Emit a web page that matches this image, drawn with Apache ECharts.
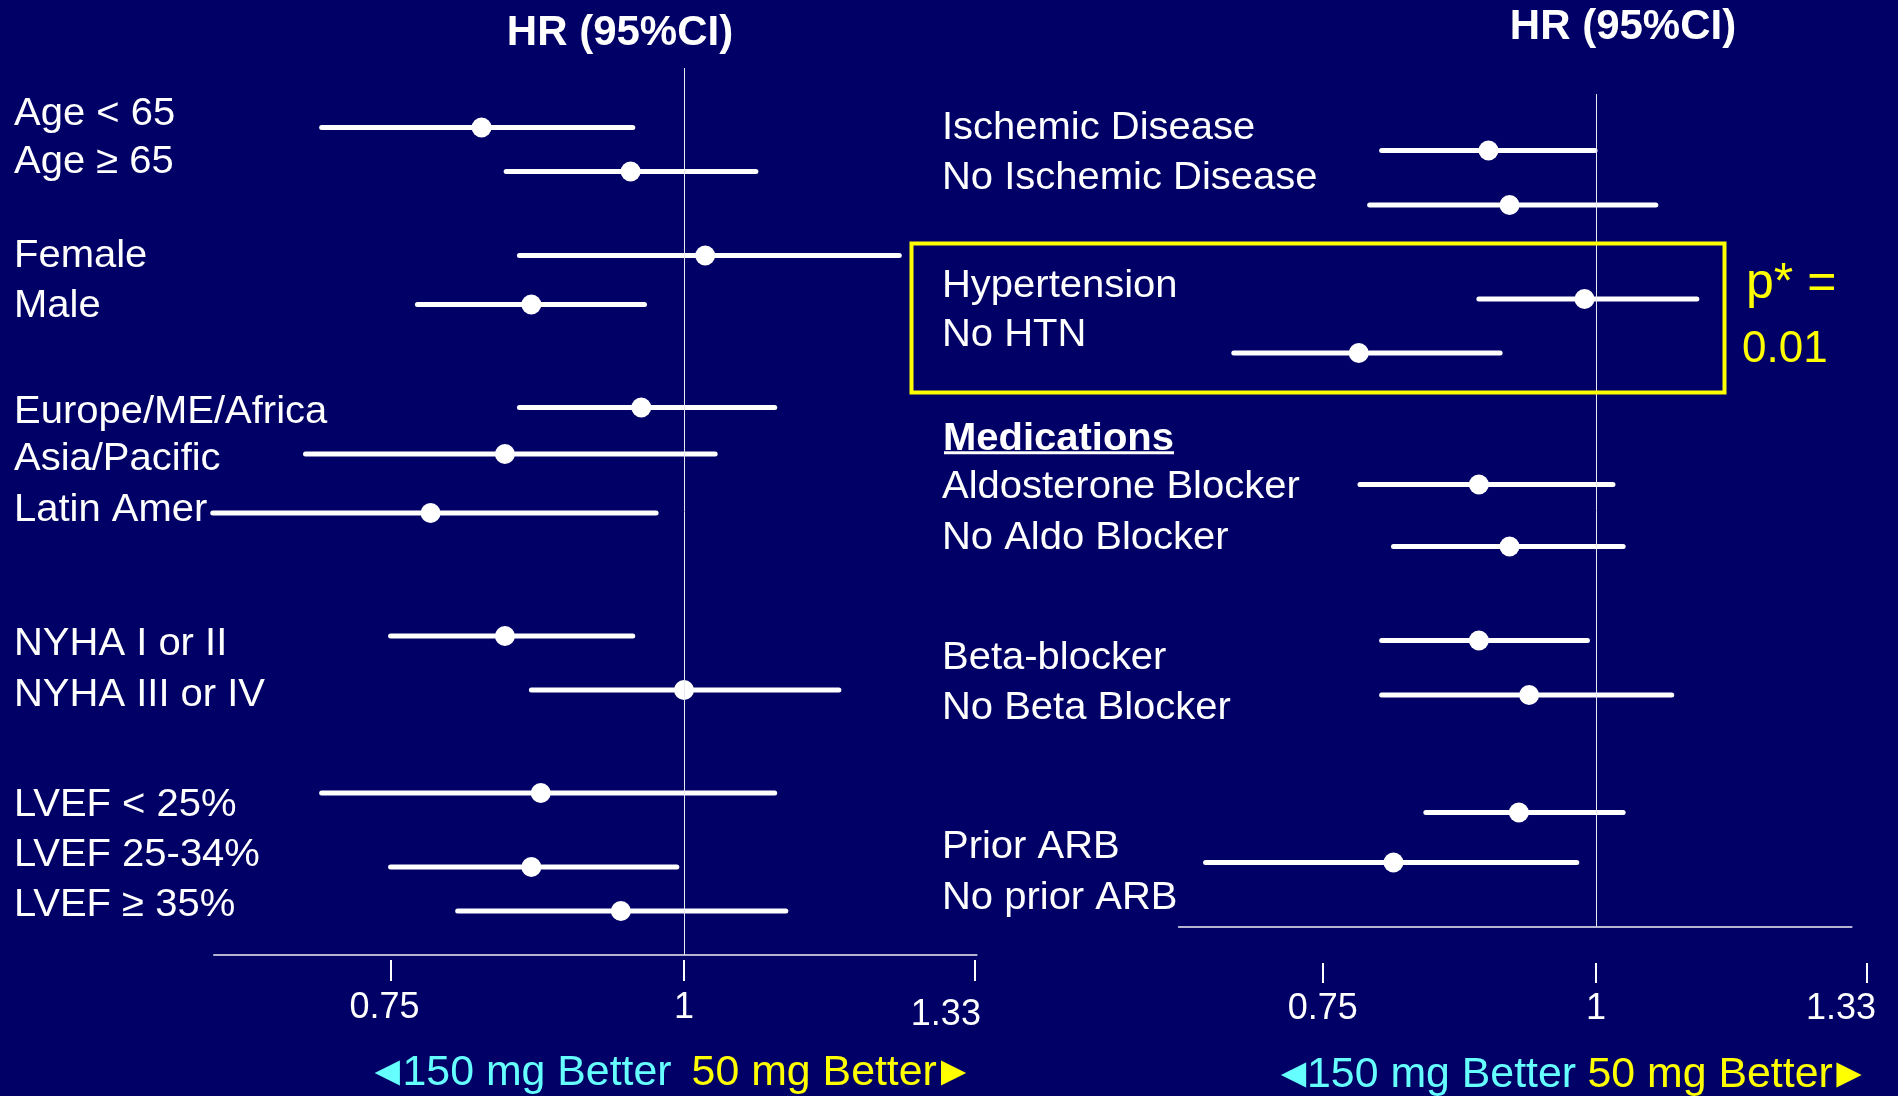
<!DOCTYPE html>
<html>
<head>
<meta charset="utf-8">
<script src="https://cdn.jsdelivr.net/npm/echarts@6/dist/echarts.min.js"></script>
<style>
  html, body { margin: 0; padding: 0; background: #000066; }
  #chart { width: 1898px; height: 1096px; }
</style>
</head>
<body>
<div id="chart"></div>
<script>
// Subgroup hazard ratios (150 mg vs 50 mg) with 95% confidence intervals.
const leftCategories = ['Age < 65', 'Age \u2265 65', 'Female', 'Male', 'Europe/ME/Africa', 'Asia/Pacific',
  'Latin Amer', 'NYHA I or II', 'NYHA III or IV', 'LVEF < 25%', 'LVEF 25-34%', 'LVEF \u2265 35%'];
const leftHR   = [0.820, 0.949, 1.021, 0.861, 0.959, 0.839, 0.780, 0.839, 1.000, 0.869, 0.861, 0.940];
const leftLow  = [0.701, 0.840, 0.851, 0.770, 0.851, 0.690, 0.630, 0.750, 0.861, 0.701, 0.750, 0.801];
const leftHigh = [0.951, 1.073, 1.235, 0.962, 1.093, 1.031, 0.973, 0.951, 1.164, 1.093, 0.993, 1.105];

const rightCategories = ['Ischemic Disease', 'No Ischemic Disease', 'Hypertension', 'No HTN',
  'Aldosterone Blocker', 'No Aldo Blocker', 'Beta-blocker', 'No Beta Blocker', 'Prior ARB', 'No prior ARB'];
const rightHR   = [0.893, 0.913, 0.988, 0.779, 0.884, 0.913, 0.884, 0.932, 0.922, 0.808];
const rightLow  = [0.798, 0.788, 0.884, 0.683, 0.780, 0.808, 0.798, 0.798, 0.836, 0.663];
const rightHigh = [0.999, 1.065, 1.112, 0.904, 1.018, 1.029, 0.991, 1.083, 1.029, 0.980];

const tickValues = [0.75, 1, 1.33];
const tickLabels = ['0.75', '1', '1.33'];

const titleText = 'HR (95%CI)';
const sectionTitle = 'Medications';
const pValueLines = ['p* =', '0.01'];
const arrowLeft = '\u25C4';
const arrowRight = '\u25BA';
const favourLeft = '150 mg Better';
const favourRight = '50 mg Better';

// ---- layout -------------------------------------------------------------
const FONT = '"Liberation Sans", Arial, Helvetica, sans-serif';
const LINE = 50;                 // one text line, in px, used as the row unit
const WHITE = '#ffffff';
const YELLOW = '#ffff00';
const CYAN = '#66ffff';
const AXIS_GREY = '#b4b4d2';
const CAPTION_STRETCH = 1.025;   // captions are set slightly wide
const FAVOUR_STRETCH = 1.02;

// Row slots (in text lines from the top of each plot area)
const leftRowSlot  = [1.19, 2.07, 3.75, 4.73, 6.79, 7.72, 8.90, 11.36, 12.44, 14.50, 15.98, 16.86];
const rightRowSlot = [1.13, 2.22, 4.10, 5.18, 7.81, 9.05, 10.93, 12.02, 14.37, 15.37];
// Vertical centres of the row captions in the text columns
const leftCaptionY  = [111.7, 160, 254, 303.6, 410, 457, 508, 642, 693, 803, 853, 903];
const rightCaptionY = [125.5, 175.5, 284, 333, 485, 536, 656, 706, 845, 895.6];

// c: pixel of HR = 1, k: pixels per unit of ln(HR)
// labelPad: per-tick padding nudging individual tick labels
const panels = [
  { c: 684, k: 1020, plotLeft: 214, plotRight: 976.6, plotTop: 68, plotBottom: 955,
    tickRight: 1000, tickTop: 960, tickLen: 21, labelMargin: 30,
    labelPad: [[0, 12, 0, 0], null, [7, 58, 0, 0]],
    low: leftLow, hr: leftHR, high: leftHigh, slot: leftRowSlot },
  { c: 1596, k: 950, plotLeft: 1178.8, plotRight: 1851.6, plotTop: 94, plotBottom: 926.5,
    tickRight: 1890, tickTop: 963, tickLen: 20, labelMargin: 28,
    labelPad: [null, null, [0, 52, 0, 0]],
    low: rightLow, hr: rightHR, high: rightHigh, slot: rightRowSlot }
];

function hrAt(px, p) { return Math.exp((px - p.c) / p.k); }

const grid = [], xAxis = [], yAxis = [], series = [];

panels.forEach((p, i) => {
  // plot area: intervals, reference line and axis line
  grid.push({ left: p.plotLeft, top: p.plotTop, width: p.plotRight - p.plotLeft,
    height: p.plotBottom - p.plotTop, outerBoundsMode: 'none', containLabel: false });
  // strip below carrying the tick marks and tick labels
  grid.push({ left: p.plotLeft, top: p.tickTop - 10, width: p.tickRight - p.plotLeft,
    height: 10, outerBoundsMode: 'none', containLabel: false });

  const gData = i * 2, gTick = i * 2 + 1;

  const rich = {};
  p.labelPad.forEach((pad, j) => {
    if (pad) rich['t' + j] = { color: WHITE, fontSize: 36, fontFamily: FONT, padding: pad };
  });

  xAxis.push({
    type: 'log', gridIndex: gData, position: 'bottom',
    min: hrAt(p.plotLeft, p), max: hrAt(p.plotRight, p),
    axisLine: { show: true, onZero: false, lineStyle: { color: AXIS_GREY, width: 2 } },
    axisTick: { show: false }, axisLabel: { show: false }, splitLine: { show: false }
  });
  xAxis.push({
    type: 'log', gridIndex: gTick, position: 'bottom',
    min: hrAt(p.plotLeft, p), max: hrAt(p.tickRight, p),
    axisLine: { show: false, onZero: false },
    axisTick: { show: true, customValues: tickValues, inside: false, length: p.tickLen,
      lineStyle: { color: WHITE, width: 2 } },
    axisLabel: {
      show: true, customValues: tickValues, margin: p.labelMargin,
      color: WHITE, fontSize: 36, fontFamily: FONT,
      formatter: (v) => {
        let best = 0;
        tickValues.forEach((t, j) => { if (Math.abs(t - v) < Math.abs(tickValues[best] - v)) best = j; });
        return p.labelPad[best] ? '{t' + best + '|' + tickLabels[best] + '}' : tickLabels[best];
      },
      rich: rich
    },
    splitLine: { show: false }
  });

  yAxis.push({ type: 'value', gridIndex: gData, inverse: true, min: 0,
    max: (p.plotBottom - p.plotTop) / LINE, show: false });
  yAxis.push({ type: 'value', gridIndex: gTick, min: 0, max: 1, show: false });

  series.push({
    type: 'custom',
    xAxisIndex: gData, yAxisIndex: gData,
    data: p.hr.map((v, j) => [p.low[j], v, p.high[j], p.slot[j]]),
    encode: { x: [0, 1, 2], y: 3 },
    renderItem: (params, api) => {
      const y = api.value(3);
      const a = api.coord([api.value(0), y]);
      const m = api.coord([api.value(1), y]);
      const b = api.coord([api.value(2), y]);
      return {
        type: 'group',
        children: [
          { type: 'line', shape: { x1: a[0], y1: a[1], x2: b[0], y2: b[1] },
            style: { stroke: WHITE, lineWidth: 5, lineCap: 'round' } },
          { type: 'circle', shape: { cx: m[0], cy: m[1], r: 10 }, style: { fill: WHITE } }
        ]
      };
    },
    markLine: {
      silent: true, symbol: 'none', animation: false,
      label: { show: false },
      lineStyle: { color: '#e6e6f0', width: 1, type: 'solid' },
      data: [{ xAxis: 1 }]
    },
    z: 3
  });
});

// ---- text ---------------------------------------------------------------
// y is the centre of the capital letters; canvas "middle" sits a little above it
function txt(text, x, y, size, color, opts) {
  opts = opts || {};
  return {
    type: 'text', x: x, y: y + 0.07 * size, silent: true, z: 10,
    scaleX: opts.stretch || 1,
    style: {
      text: text, fill: color,
      font: (opts.bold ? 'bold ' : '') + size + 'px ' + FONT,
      align: opts.align || 'left', verticalAlign: 'middle',
      textAlign: opts.align || 'left', textVerticalAlign: 'middle'
    }
  };
}

const graphic = [];
graphic.push(txt(titleText, 620, 30, 42, WHITE, { bold: true, align: 'center' }));
graphic.push(txt(titleText, 1623, 24, 42, WHITE, { bold: true, align: 'center' }));

leftCategories.forEach((c, i) =>
  graphic.push(txt(c, 14, leftCaptionY[i], 39, WHITE, { stretch: CAPTION_STRETCH })));
rightCategories.forEach((c, i) =>
  graphic.push(txt(c, 942, rightCaptionY[i], 39, WHITE, { stretch: CAPTION_STRETCH })));

graphic.push(txt(sectionTitle, 943, 436.6, 39, WHITE, { bold: true, stretch: CAPTION_STRETCH }));
graphic.push({ type: 'line', silent: true, z: 10,
  shape: { x1: 944, y1: 452.7, x2: 1174, y2: 452.7 }, style: { stroke: WHITE, lineWidth: 3 } });

// highlighted hypertension subgroup
graphic.push({ type: 'rect', silent: true, z: 9,
  shape: { x: 911.5, y: 243.5, width: 813, height: 149 },
  style: { fill: 'none', stroke: YELLOW, lineWidth: 4 } });
graphic.push(txt(pValueLines[0], 1746, 280.4, 50, YELLOW));
graphic.push(txt(pValueLines[1], 1742, 347, 44, YELLOW));

// direction-of-benefit captions under each axis
[[387.2, 402.5, 691.6, 953.6, 1070], [1293.5, 1307, 1587.5, 1849, 1072]].forEach(([a1, t1, t2, a2, y]) => {
  graphic.push(txt(arrowLeft, a1, y, 42, CYAN, { align: 'center' }));
  graphic.push(txt(favourLeft, t1, y, 42, CYAN, { stretch: FAVOUR_STRETCH }));
  graphic.push(txt(favourRight, t2, y, 42, YELLOW, { stretch: FAVOUR_STRETCH }));
  graphic.push(txt(arrowRight, a2, y, 42, YELLOW, { align: 'center' }));
});

const chart = echarts.init(document.getElementById('chart'), null, { renderer: 'canvas' });
chart.setOption({
  backgroundColor: '#000066',
  animation: false,
  grid: grid,
  xAxis: xAxis,
  yAxis: yAxis,
  series: series,
  graphic: graphic
});
</script>
</body>
</html>
